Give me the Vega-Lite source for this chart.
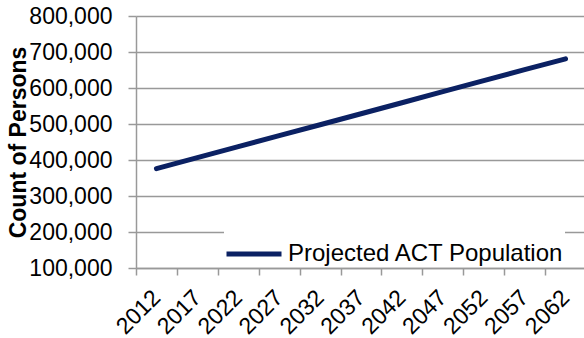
{
  "$schema": "https://vega.github.io/schema/vega-lite/v6.json",
  "autosize": "none",
  "width": 450,
  "height": 252,
  "padding": {"left": 136, "top": 16, "right": 0, "bottom": 70},
  "background": "white",
  "config": {
    "view": {"stroke": null},
    "font": "Liberation Sans"
  },
  "data": {
    "values": [
      {"year": "2012", "population": 376000, "series": "Projected ACT Population"},
      {"year": "2017", "population": 406500, "series": "Projected ACT Population"},
      {"year": "2022", "population": 437000, "series": "Projected ACT Population"},
      {"year": "2027", "population": 467500, "series": "Projected ACT Population"},
      {"year": "2032", "population": 498000, "series": "Projected ACT Population"},
      {"year": "2037", "population": 528500, "series": "Projected ACT Population"},
      {"year": "2042", "population": 559000, "series": "Projected ACT Population"},
      {"year": "2047", "population": 590000, "series": "Projected ACT Population"},
      {"year": "2052", "population": 620500, "series": "Projected ACT Population"},
      {"year": "2057", "population": 651000, "series": "Projected ACT Population"},
      {"year": "2062", "population": 681000, "series": "Projected ACT Population"}
    ]
  },
  "mark": {"type": "line", "strokeWidth": 5, "strokeCap": "round"},
  "encoding": {
    "x": {
      "field": "year",
      "type": "ordinal",
      "scale": {"type": "band", "paddingInner": 0, "paddingOuter": 0},
      "axis": {
        "title": null,
        "labelAngle": -45,
        "labelFontSize": 23,
        "labelColor": "black",
        "tickBand": "extent",
        "tickSize": 7,
        "tickColor": "#999999",
        "tickWidth": 1.5,
        "domainColor": "#999999",
        "domainWidth": 1.5,
        "grid": false,
        "labelPadding": 11,
        "labelOffset": -8
      }
    },
    "y": {
      "field": "population",
      "type": "quantitative",
      "scale": {"domain": [100000, 800000], "nice": false, "zero": false},
      "axis": {
        "title": "Count of Persons",
        "titleFontSize": 23,
        "titleFontWeight": "bold",
        "titleColor": "black",
        "titleX": -111,
        "titleBaseline": "alphabetic",
        "values": [100000, 200000, 300000, 400000, 500000, 600000, 700000, 800000],
        "format": ",d",
        "labelFontSize": 23,
        "labelColor": "black",
        "labelPadding": 16,
        "tickSize": 8,
        "tickColor": "#999999",
        "tickWidth": 1.5,
        "domainColor": "#999999",
        "domainWidth": 1.5,
        "grid": true,
        "gridColor": "#999999",
        "gridWidth": 1.5
      }
    },
    "color": {
      "field": "series",
      "type": "nominal",
      "scale": {"range": ["#0b2163"]},
      "legend": {
        "title": null,
        "orient": "none",
        "legendX": 88,
        "legendY": 208,
        "symbolType": "stroke",
        "symbolSize": 3025,
        "symbolStrokeWidth": 5,
        "labelFontSize": 24,
        "labelLimit": 400,
        "labelColor": "black",
        "labelOffset": 4,
        "fillColor": "white"
      }
    }
  }
}
